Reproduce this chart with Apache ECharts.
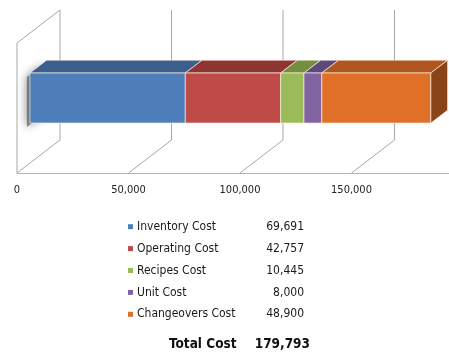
<!DOCTYPE html>
<html>
<head>
<meta charset="utf-8">
<script src="https://cdn.jsdelivr.net/npm/echarts@6/dist/echarts.min.js"></script>
<style>
  html, body { margin: 0; padding: 0; background: #ffffff; }
  #chart { width: 449px; height: 354px; }
</style>
</head>
<body>
<div id="chart"></div>
<script>
// Cost breakdown, one stacked 3D bar
var costNames = ['Inventory Cost', 'Operating Cost', 'Recipes Cost', 'Unit Cost', 'Changeovers Cost'];
var costValues = [69691, 42757, 10445, 8000, 48900];
var frontColors = ['#4F7FBA', '#BE4B48', '#9BBB59', '#8064A2', '#E07027'];
var topColors = ['#3A5F8E', '#8E3532', '#718F3D', '#5E4A7A', '#B0561E'];
var sideColor = '#8A4419';
var axisTicks = [0, 50000, 100000, 150000];
var totalLabel = 'Total Cost';

var FONT = '"DejaVu Sans Condensed", "Liberation Sans", sans-serif';

// depth vector of the 3D box (pixels from front plane to back plane)
var DEPTH = [43, -33];
// bar position inside the box: front/back depth fraction and height range
var BAR_T1 = 0.3, BAR_T2 = 0.69, BAR_H0 = 0.308, BAR_H1 = 0.693;

function fmt(n) {
  return String(n).replace(/\B(?=(\d{3})+(?!\d))/g, ',');
}
function shift(p, t) {
  return [p[0] + DEPTH[0] * t, p[1] + DEPTH[1] * t];
}

// stacked segments [start, end, index]
var segments = [];
var acc = 0;
for (var i = 0; i < costValues.length; i++) {
  segments.push([acc, acc + costValues[i], i]);
  acc += costValues[i];
}
var total = acc;

var chart = echarts.init(document.getElementById('chart'), null, { renderer: 'canvas' });

// value table under the chart: colour key, name, value
var tableGraphics = [];
var ROW0 = 226.7, ROW_STEP = 21.9;
costNames.forEach(function (name, i) {
  var cy = ROW0 + i * ROW_STEP;
  tableGraphics.push({
    type: 'rect', left: 128, top: cy - 2.5,
    shape: { width: 5, height: 5 },
    style: { fill: frontColors[i] }
  });
  tableGraphics.push({
    type: 'text', x: 137, y: cy,
    style: { text: name, font: '12px ' + FONT, fill: '#1a1a1a', textVerticalAlign: 'middle' }
  });
  tableGraphics.push({
    type: 'text', x: 304, y: cy,
    style: { text: fmt(costValues[i]), font: '12px ' + FONT, fill: '#1a1a1a', textAlign: 'right', textVerticalAlign: 'middle' }
  });
});
tableGraphics.push({
  type: 'text', x: 169, y: 344,
  style: { text: totalLabel, font: 'bold 13.5px ' + FONT, fill: '#111111', textVerticalAlign: 'middle' }
});
tableGraphics.push({
  type: 'text', x: 310, y: 344,
  style: { text: fmt(total), font: 'bold 13.5px ' + FONT, fill: '#111111', textAlign: 'right', textVerticalAlign: 'middle' }
});

var option = {
  animation: false,
  backgroundColor: '#ffffff',
  grid: { left: 17, top: 43, width: 446, height: 130, outerBoundsMode: 'none', containLabel: false },
  xAxis: {
    type: 'value',
    min: 0,
    max: 200000,
    interval: 50000,
    axisLine: { show: true, lineStyle: { color: '#B4B4B4', width: 1 } },
    axisTick: { show: false },
    splitLine: { show: false },
    axisLabel: {
      margin: 12,
      fontSize: 11,
      fontFamily: FONT,
      color: '#222222',
      formatter: function (v) { return v >= 200000 ? '' : fmt(v); }
    }
  },
  yAxis: { type: 'value', min: 0, max: 1, show: false },
  graphic: tableGraphics,
  series: [
    {
      // floor and back-wall gridlines plus the left wall
      type: 'custom',
      silent: true,
      data: axisTicks,
      renderItem: function (params, api) {
        var v = api.value(0);
        var f0 = api.coord([v, 0]);
        var f1 = api.coord([v, 1]);
        var b0 = shift(f0, 1);
        var b1 = shift(f1, 1);
        var children = [{
          type: 'polyline',
          shape: { points: [f0, b0, b1] },
          style: { stroke: '#A8A8A8', lineWidth: 1, fill: null }
        }];
        if (v === 0) {
          children.push({
            type: 'polyline',
            shape: { points: [f0, f1, b1] },
            style: { stroke: '#A8A8A8', lineWidth: 1, fill: null }
          });
        }
        return { type: 'group', children: children };
      },
      encode: { x: 0 }
    },
    {
      // soft shadow cast on the left wall
      type: 'custom',
      silent: true,
      data: [[0]],
      renderItem: function (params, api) {
        var a = api.coord([0, BAR_H1]);
        var b = api.coord([0, BAR_H0]);
        var p1 = shift(a, BAR_T1), p2 = shift(a, BAR_T2);
        var p3 = shift(b, BAR_T2), p4 = shift(b, BAR_T1);
        var pts = [p1, p2, p3, p4].map(function (p) { return [p[0] - 3, p[1] + 4]; });
        return {
          type: 'polygon',
          shape: { points: pts },
          style: {
            fill: 'rgba(95,95,95,0.7)',
            shadowBlur: 10,
            shadowColor: 'rgba(0,0,0,0.7)'
          }
        };
      },
      encode: { x: 0 }
    },
    {
      // the stacked 3D bar segments
      type: 'custom',
      silent: true,
      data: segments,
      renderItem: function (params, api) {
        var s = api.value(0), e = api.value(1), idx = api.value(2);
        var sTop = api.coord([s, BAR_H1]), sBot = api.coord([s, BAR_H0]);
        var eTop = api.coord([e, BAR_H1]), eBot = api.coord([e, BAR_H0]);
        var edge = 'rgba(255,240,225,0.85)';
        var children = [];
        children.push({
          type: 'polygon',
          shape: { points: [shift(sTop, BAR_T1), shift(eTop, BAR_T1), shift(eTop, BAR_T2), shift(sTop, BAR_T2)] },
          style: { fill: topColors[idx], stroke: edge, lineWidth: 0.8 }
        });
        children.push({
          type: 'polygon',
          shape: { points: [shift(sTop, BAR_T1), shift(eTop, BAR_T1), shift(eBot, BAR_T1), shift(sBot, BAR_T1)] },
          style: { fill: frontColors[idx], stroke: edge, lineWidth: 0.8 }
        });
        if (idx === costValues.length - 1) {
          children.push({
            type: 'polygon',
            shape: { points: [shift(eTop, BAR_T1), shift(eTop, BAR_T2), shift(eBot, BAR_T2), shift(eBot, BAR_T1)] },
            style: { fill: sideColor, stroke: edge, lineWidth: 0.8 }
          });
        }
        return { type: 'group', children: children };
      },
      encode: { x: [0, 1] }
    }
  ]
};

chart.setOption(option);
</script>
</body>
</html>
